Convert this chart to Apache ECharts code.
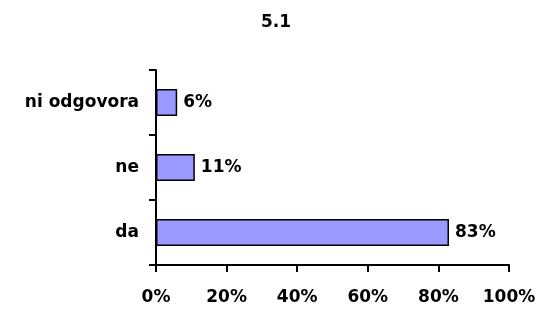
<!DOCTYPE html>
<html><head><meta charset="utf-8">
<script src="https://cdn.jsdelivr.net/npm/echarts@6/dist/echarts.min.js"></script>
<style>html,body{margin:0;padding:0;background:#fff}#c{width:540px;height:309px}</style>
</head><body><div id="c"></div>
<script>
const title = '5.1';
const categories = ['da', 'ne', 'ni odgovora'];
const values = [83, 11, 6];
const xTicks = [0, 20, 40, 60, 80, 100];

const font = '"DejaVu Sans", sans-serif';
const fs = 17;
const chart = echarts.init(document.getElementById('c'), null, {renderer: 'canvas'});
chart.setOption({
  animation: false,
  title: {text: title, left: 271, top: 9, textAlign: 'center',
    textStyle: {fontFamily: font, fontWeight: 'bold', fontSize: fs, color: '#000'}},
  grid: {left: 156, right: 31, top: 70, bottom: 44, containLabel: false},
  xAxis: {type: 'value', min: xTicks[0], max: xTicks[xTicks.length-1], interval: 20,
    axisLine: {show: true, lineStyle: {color: '#000', width: 2}},
    axisTick: {show: true, length: 7, inside: false, lineStyle: {color: '#000', width: 2}},
    splitLine: {show: false},
    axisLabel: {formatter: '{value}%', margin: 24, fontFamily: font, fontWeight: 'bold', fontSize: fs, color: '#000'}},
  yAxis: {type: 'category', data: categories,
    axisLine: {show: true, lineStyle: {color: '#000', width: 2}},
    axisTick: {show: true, length: 7, lineStyle: {color: '#000', width: 2}},
    axisLabel: {margin: 17, fontFamily: font, fontWeight: 'bold', fontSize: fs, color: '#000'}},
  series: [{type: 'bar', data: values, barWidth: 27,
    itemStyle: {color: '#9999FF', borderColor: '#000', borderWidth: 1.5},
    label: {show: true, position: 'right', distance: 6, formatter: '{c}%',
      fontFamily: font, fontWeight: 'bold', fontSize: fs, color: '#000'}}]
});
</script></body></html>
